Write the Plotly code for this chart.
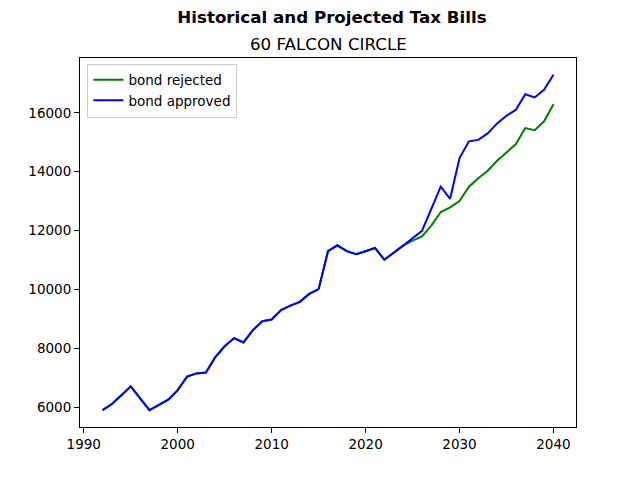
import plotly.graph_objects as go

# Tax bill history (shared) plus the two projections
years = list(range(1992, 2041))
history = [5900, 6110, 6410, 6710, 6300, 5900, 6080, 6260, 6580, 7040,
           7150, 7180, 7700, 8070, 8350, 8200, 8620, 8920, 8980, 9300,
           9450, 9580, 9850, 10010, 11300, 11500, 11300, 11200, 11300, 11410,
           11010, 11240, 11490]
rejected_future = [11660, 11800, 12170, 12630, 12790, 13000, 13490, 13780,
                   14030, 14370, 14650, 14940, 15480, 15410, 15710, 16290]
approved_future = [11740, 11990, 12740, 13490, 13080, 14460, 15030, 15080,
                   15300, 15640, 15900, 16100, 16630, 16520, 16780, 17290]

bond_rejected = history + rejected_future
bond_approved = history + approved_future

FONT = "DejaVu Sans"

fig = go.Figure()
fig.add_trace(go.Scatter(x=years, y=bond_rejected, mode="lines", name="bond rejected",
                         line=dict(color="green", width=2)))
fig.add_trace(go.Scatter(x=years, y=bond_approved, mode="lines", name="bond approved",
                         line=dict(color="blue", width=2)))

axis_style = dict(showgrid=False, zeroline=False, showline=True, linecolor="black",
                  linewidth=1, mirror=True, ticks="outside", ticklen=5, tickwidth=1,
                  tickcolor="black", automargin=False,
                  tickfont=dict(family=FONT, size=13.5, color="black"))

fig.update_xaxes(range=[1989.6, 2042.4], dtick=10, **axis_style)
fig.update_yaxes(range=[5330, 17860], dtick=2000, tickformat="d", **axis_style)

# page puts the figure 8px in from the corner, so margins are trimmed to match
fig.update_layout(
    width=640, height=480,
    margin=dict(l=72, r=72, t=50, b=61),
    plot_bgcolor="white", paper_bgcolor="white",
    title=dict(text="<b>Historical and Projected Tax Bills</b>", x=(72 + 568) / 2 / 640 + 4 / 640,
               xanchor="center", yref="container", y=1 - 9 / 480, yanchor="middle",
               font=dict(family=FONT, size=16.7, color="black")),
    legend=dict(x=0.015, y=0.985, xanchor="left", yanchor="top",
                bgcolor="rgba(255,255,255,0.8)", bordercolor="#cccccc", borderwidth=1,
                font=dict(family=FONT, size=13.5, color="black"), tracegroupgap=0),
    annotations=[dict(text="60 FALCON CIRCLE", xref="paper", yref="paper", x=0.5, y=1.0,
                      yshift=14, xanchor="center", yanchor="middle", showarrow=False,
                      font=dict(family=FONT, size=16.7, color="black"))],
)

fig.write_html("out.html")
